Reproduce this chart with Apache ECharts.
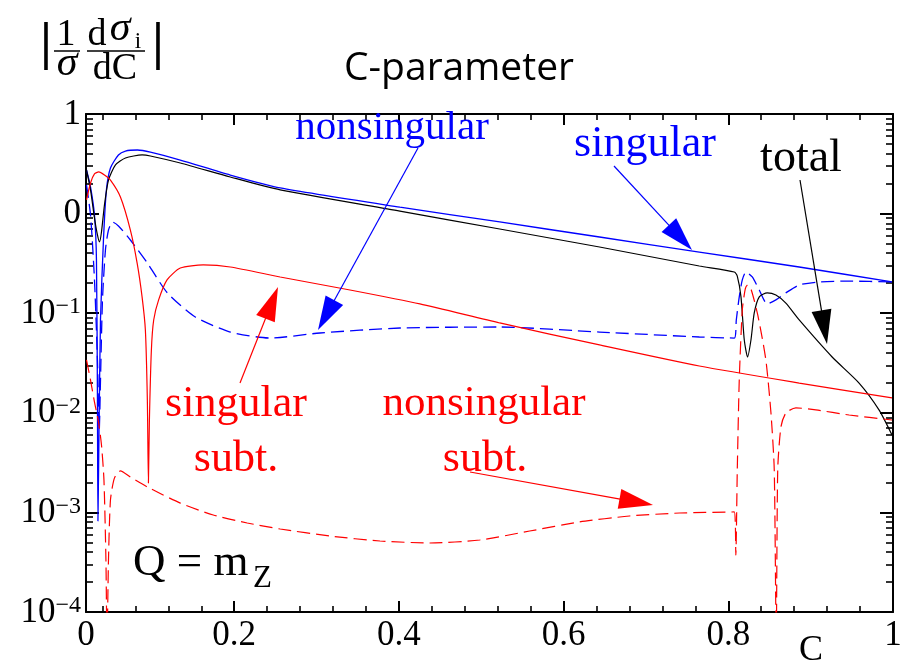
<!DOCTYPE html>
<html>
<head>
<meta charset="utf-8">
<script src="https://cdn.jsdelivr.net/npm/echarts@6.0.0/dist/echarts.min.js"></script>
<style>
html,body{margin:0;padding:0;background:#fff;}
#chart{width:905px;height:668px;}
</style>
</head>
<body>
<div id="chart"></div>
<script>
// ---------- data (C, |1/sigma dsigma_i/dC|) ----------
const singularC = [0.0206,0.0255,0.0303,0.0327,0.0339,0.0345,0.0358,0.0376,0.0412,0.0448,0.0497,0.0594,0.0679,0.0824,0.0982,0.1345,0.1952,0.2558,0.4012,0.5224,0.6436,0.7648,0.8861,0.9988];
const singularV = [2.74,1.85,0.968,0.342,0.01345,0.00082,0.00672,0.0855,0.543,1.73,2.87,3.88,4.25,4.35,4.15,3.45,2.44,1.81,1.16,0.824,0.582,0.411,0.291,0.206];

const totalC = [0.0206,0.0255,0.0303,0.0339,0.0364,0.0388,0.0424,0.0473,0.0558,0.0679,0.0882,0.0982,0.1345,0.1952,0.2558,0.4012,0.5224,0.6436,0.7648,0.8073,0.8109,0.8154,0.8194,0.8234,0.8275,0.8315,0.8376,0.8473,0.8578,0.8699,0.8861,0.9261,0.9588,0.9830,0.9988];
const totalV = [2.74,1.73,0.903,0.610,0.519,0.653,1.22,2.17,3.08,3.62,3.88,3.79,3.22,2.33,1.73,1.06,0.700,0.462,0.298,0.259,0.236,0.146,0.0538,0.0363,0.0538,0.1005,0.146,0.160,0.152,0.126,0.0855,0.0363,0.0199,0.0107,0.00598];

const nonsingularC = [0.0206,0.0255,0.0303,0.0339,0.0361,0.0376,0.0400,0.0436,0.0473,0.0521,0.0594,0.0739,0.0945,0.1188,0.1527,0.1952,0.2436,0.3042,0.4012,0.5224,0.6436,0.7648,0.8073,0.8097,0.8133,0.8170,0.8215,0.8291,0.8376,0.8473,0.8578,0.8699,0.8861,0.9103,0.9467,0.9988];
const nonsingularV = [1.94,0.968,0.216,0.0339,0.00672,0.0213,0.136,0.431,0.684,0.824,0.751,0.543,0.319,0.160,0.0916,0.0647,0.0563,0.0633,0.0710,0.0727,0.0647,0.0577,0.0563,0.0855,0.146,0.216,0.259,0.231,0.171,0.124,0.136,0.160,0.192,0.206,0.210,0.206];

const singSubtC = [0.0206,0.0255,0.0303,0.0355,0.0424,0.0497,0.0618,0.0739,0.0821,0.0881,0.0921,0.0945,0.0958,0.0970,0.0994,0.1022,0.1082,0.1184,0.1345,0.1624,0.1952,0.2558,0.3406,0.4255,0.5224,0.6436,0.7648,0.8861,0.9988];
const singSubtV = [1.37,2.03,2.50,2.62,2.44,2.17,1.47,0.684,0.319,0.146,0.0678,0.01345,0.00197,0.00847,0.0428,0.0855,0.136,0.216,0.284,0.305,0.291,0.231,0.171,0.124,0.0798,0.048,0.0295,0.0199,0.0141];

const nonsingSubtC = [0.0206,0.0255,0.0303,0.0352,0.0388,0.0418,0.0442,0.0455,0.0473,0.0497,0.0545,0.0618,0.0739,0.0945,0.1345,0.1745,0.2158,0.2558,0.3164,0.3770,0.4376,0.4982,0.5588,0.6194,0.6800,0.7406,0.8073,0.8091,0.8109,0.8133,0.8170,0.8206,0.8234,0.8279,0.8352,0.8412,0.8461,0.8518,0.8558,0.8582,0.8600,0.8639,0.8699,0.8821,0.9063,0.9467,0.9988];
const nonsingSubtV = [0.0339,0.0213,0.0128,0.00809,0.00475,0.00211,0.000333,0.00005,0.000333,0.00133,0.00221,0.00261,0.00226,0.0018,0.00124,0.000942,0.000783,0.000681,0.000579,0.000516,0.000493,0.000528,0.00065,0.000802,0.00092,0.000986,0.00101,0.000373,0.00267,0.0213,0.1076,0.175,0.192,0.171,0.1005,0.0563,0.0316,0.00995,0.00267,0.00005,0.00267,0.0072,0.00995,0.0112,0.0107,0.0095,0.00847];

// ---------- axes ----------
const xTickValues = [0, 0.2, 0.4, 0.6, 0.8, 1];
const xTickLabels = ['0', '0.2', '0.4', '0.6', '0.8', '1'];
const yDecades = [-4, -3, -2, -1, 0, 1];
const yTickLabels = ['10^\u22124', '10^\u22123', '10^\u22122', '10^\u22121', '0', '1'];

const X_MIN = 0.02, X_MAX = 1;
const SERIF = '"Liberation Serif", "Times New Roman", serif';

const xLabelPos = xTickValues.map(v => Math.max(v, X_MIN));
const xMajor = xTickValues.filter(v => v > X_MIN);
const xMinor = [];
for (let i = 1; i < 25; i++) { if (i % 5 !== 0) xMinor.push(i * 0.04); }
const yMinor = [];
for (let d = -4; d < 1; d++) for (let k = 2; k <= 9; k++) yMinor.push(d + Math.log10(k));

function pts(cs, vs) { return cs.map((c, i) => [c, Math.log10(vs[i])]); }

function xAxisCfg(pos, major) {
  return {
    type: 'value', min: X_MIN, max: X_MAX, position: pos, offset: 0,
    axisLine: { show: major, onZero: false, lineStyle: { color: '#000', width: 2 } },
    axisTick: { show: true, inside: true, length: major ? 11 : 6, customValues: major ? xMajor : xMinor,
      lineStyle: { color: '#000', width: major ? 2 : 1.6 } },
    axisLabel: (major && pos === 'bottom') ? {
      show: true, customValues: xLabelPos, margin: 6, color: '#000',
      fontFamily: SERIF, fontSize: 35,
      formatter: v => { const i = xLabelPos.findIndex(p => Math.abs(p - v) < 1e-9); return i >= 0 ? xTickLabels[i] : ''; }
    } : { show: false },
    splitLine: { show: false }
  };
}
function yAxisCfg(pos, major) {
  return {
    type: 'value', min: -4, max: 1, interval: 1, position: pos, offset: 0,
    axisLine: { show: major, onZero: false, lineStyle: { color: '#000', width: 2 } },
    axisTick: major ? { show: true, inside: true, length: 13, lineStyle: { color: '#000', width: 2 } }
                    : { show: true, inside: true, length: 7, customValues: yMinor, lineStyle: { color: '#000', width: 1.6 } },
    axisLabel: (major && pos === 'left') ? {
      show: true, margin: 5, color: '#000',
      formatter: v => {
        const i = yDecades.indexOf(Math.round(v));
        if (i < 0) return '';
        const t = yTickLabels[i];
        if (t.indexOf('^') >= 0) { const p = t.split('^'); return '{b|' + p[0] + '}{e|' + p[1] + '}'; }
        return '{b|' + t + '}';
      },
      rich: {
        b: { fontFamily: SERIF, fontSize: 35, color: '#000', verticalAlign: 'bottom', lineHeight: 36 },
        e: { fontFamily: SERIF, fontSize: 24, color: '#000', verticalAlign: 'top', lineHeight: 24 }
      }
    } : { show: false },
    splitLine: { show: false }
  };
}

function line(name, cs, vs, color, dashed, width) {
  return {
    type: 'line', name: name, data: pts(cs, vs), xAxisIndex: 0, yAxisIndex: 0,
    showSymbol: false, symbol: 'none', smooth: 0.22, clip: true,
    lineStyle: { color: color, width: width, type: dashed ? [13, 6] : 'solid' },
    emphasis: { disabled: true }, animation: false
  };
}

function arrow(x0, y0, x1, y1, color) {
  const L = 34, W = 10;
  const dx = x1 - x0, dy = y1 - y0, d = Math.hypot(dx, dy);
  const ux = dx / d, uy = dy / d, bx = x1 - ux * L, by = y1 - uy * L, nx = -uy, ny = ux;
  return [
    { type: 'line', silent: true, z: 50, shape: { x1: x0, y1: y0, x2: bx + ux * 2, y2: by + uy * 2 }, style: { stroke: color, lineWidth: 1.2 } },
    { type: 'polygon', silent: true, z: 50, shape: { points: [[x1, y1], [bx + nx * W, by + ny * W], [bx - nx * W, by - ny * W]] }, style: { fill: color } }
  ];
}
function txt(text, x, y, font, color, align) {
  return { type: 'text', silent: true, z: 50, x: x, y: y,
    style: { text: text, font: font, fill: color, textAlign: align || 'center', textVerticalAlign: 'middle' } };
}

const graphics = [].concat(
  // y-axis title |1/sigma dsigma_i/dC|
  txt('|', 46, 46, 'bold 52px ' + SERIF, '#000'),
  txt('1', 66, 35, '38px ' + SERIF, '#000'),
  [{ type: 'line', silent: true, shape: { x1: 54, y1: 51, x2: 80, y2: 51 }, style: { stroke: '#000', lineWidth: 1.5 } }],
  txt('\u03c3', 67, 64, 'italic 42px ' + SERIF, '#000'),
  txt('d', 97, 35, '38px ' + SERIF, '#000'),
  txt('\u03c3', 120, 29, 'italic 42px ' + SERIF, '#000'),
  txt('i', 138, 42, '23px ' + SERIF, '#000'),
  [{ type: 'line', silent: true, shape: { x1: 87, y1: 51, x2: 145, y2: 51 }, style: { stroke: '#000', lineWidth: 1.5 } }],
  txt('dC', 115, 69, '38px ' + SERIF, '#000'),
  txt('|', 158, 46, 'bold 52px ' + SERIF, '#000'),
  // title
  txt('C-parameter', 459, 69, '39px "Open Sans", sans-serif', '#000'),
  // axis name
  txt('C', 811, 651, '36px ' + SERIF, '#000'),
  // Q = m_Z
  txt('Q = m', 133, 563, '45px ' + SERIF, '#000', 'left'),
  txt('Z', 253, 579, '31px ' + SERIF, '#000', 'left'),
  // annotations
  txt('nonsingular', 392, 128, '41px ' + SERIF, '#0000ff'),
  txt('singular', 645, 144, '44px ' + SERIF, '#0000ff'),
  txt('total', 801, 159, '46px ' + SERIF, '#000'),
  txt('singular', 236, 404, '44px ' + SERIF, '#ff0000'),
  txt('subt.', 236, 459, '44px ' + SERIF, '#ff0000'),
  txt('nonsingular', 484, 404, '43px ' + SERIF, '#ff0000'),
  txt('subt.', 485, 459, '44px ' + SERIF, '#ff0000'),
  arrow(418, 148, 318, 330, '#0000ff'),
  arrow(614, 166, 692, 250, '#0000ff'),
  arrow(800, 180, 827, 344, '#000'),
  arrow(240, 383, 278, 287, '#ff0000'),
  arrow(470, 472, 653, 505, '#ff0000')
);

const chart = echarts.init(document.getElementById('chart'), null, { renderer: 'canvas' });
chart.setOption({
  animation: false,
  backgroundColor: '#fff',
  grid: { left: 86, right: 12, top: 114, bottom: 56, containLabel: false },
  xAxis: [xAxisCfg('bottom', true), xAxisCfg('bottom', false), xAxisCfg('top', true), xAxisCfg('top', false)],
  yAxis: [yAxisCfg('left', true), yAxisCfg('left', false), yAxisCfg('right', true), yAxisCfg('right', false)],
  series: [
    line('singular', singularC, singularV, '#0000ff', false, 1.3),
    line('nonsingular', nonsingularC, nonsingularV, '#0000ff', true, 1.3),
    line('total', totalC, totalV, '#000000', false, 1.2),
    line('singular subt.', singSubtC, singSubtV, '#ff0000', false, 1.2),
    line('nonsingular subt.', nonsingSubtC, nonsingSubtV, '#ff0000', true, 1.2)
  ],
  graphic: graphics
});
</script>
</body>
</html>
